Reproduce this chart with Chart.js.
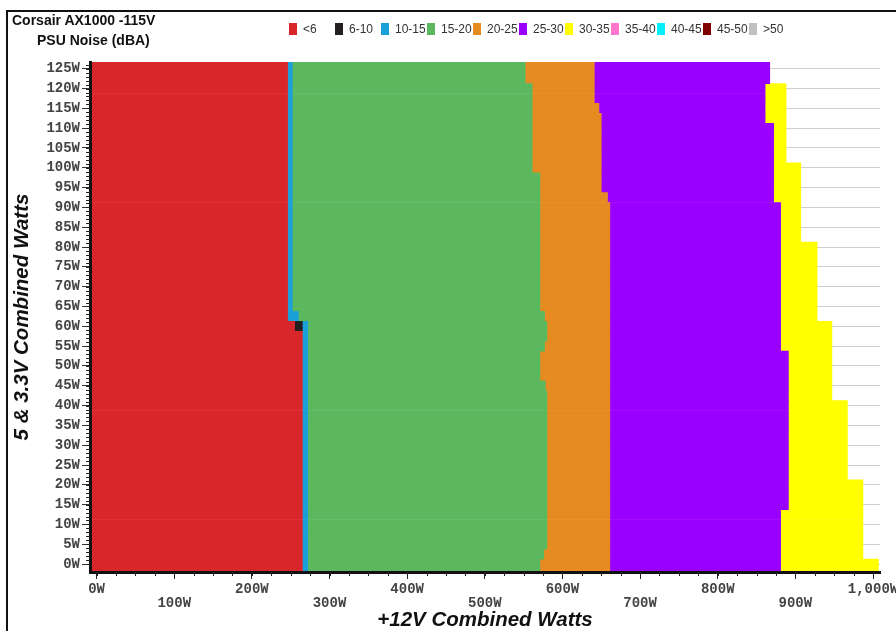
<!DOCTYPE html>
<html>
<head>
<meta charset="utf-8">
<script src="https://cdn.jsdelivr.net/npm/chart.js@4"></script>
<style>
  body { margin: 0; background: #fff; overflow: hidden; }
  #wrap { position: relative; width: 896px; height: 631px; }
  #chart { position: absolute; left: 0; top: 0; }
  .frame { position: absolute; left: 6px; top: 10px; width: 900px; height: 640px;
           border-left: 2px solid #111; border-top: 2px solid #111; }
  .ttl { position: absolute; font: bold 14px "Liberation Sans", Arial, sans-serif; color: #111; white-space: nowrap; }
  #legend { position: absolute; left: 289px; top: 22px; font: 12px "Liberation Sans", Arial, sans-serif; color: #333; }
  #legend .item { position: absolute; top: 0; white-space: nowrap; height: 14px; }
  #legend .box { position: absolute; left: 0; top: 1px; width: 8px; height: 12px; }
  #legend .txt { position: absolute; left: 14px; top: 0; line-height: 14px; }
</style>
</head>
<body>
<div id="wrap">
  <canvas id="chart" width="896" height="631"></canvas>
  <div class="frame"></div>
  <div class="ttl" style="left:12px; top:12px;">Corsair AX1000 -115V</div>
  <div class="ttl" style="left:37px; top:32px;">PSU Noise (dBA)</div>
  <div id="legend"></div>
</div>
<script>
//------------------------------------//
//-------------- Data ----------------//
//------------------------------------//

// noise bands (dBA) and their colours
const bandLabels = ['<6', '6-10', '10-15', '15-20', '20-25', '25-30', '30-35', '35-40', '40-45', '45-50', '>50'];
const bandColors = ['#d9262b', '#231f20', '#1aa1d9', '#5cb85f', '#e68b21', '#9900ff', '#ffff00', '#ff77cc', '#00f0ff', '#800000', '#c0c0c0'];

// 5 & 3.3V load rows (W), bottom to top
const rows = [
  -2.5, 0, 2.5, 5, 7.5, 10, 12.5, 15, 17.5, 20,
  22.5, 25, 27.5, 30, 32.5, 35, 37.5, 40, 42.5, 45,
  47.5, 50, 52.5, 55, 57.5, 60, 62.5, 65, 67.5, 70,
  72.5, 75, 77.5, 80, 82.5, 85, 87.5, 90, 92.5, 95,
  97.5, 100, 102.5, 105, 107.5, 110, 112.5, 115, 117.5, 120,
  122.5, 125, 127.5
];

// +12V load (W) where each band ends, one value per row
const startW = -10;
const redEnd = [
  265, 265, 265, 265, 265, 265, 265, 265, 265, 265,
  265, 265, 265, 265, 265, 265, 265, 265, 265, 265,
  265, 265, 265, 265, 265, 255, 246, 246, 246, 246,
  246, 246, 246, 246, 246, 246, 246, 246, 246, 246,
  246, 246, 246, 246, 246, 246, 246, 246, 246, 246,
  246, 246, 246
];
const blackEnd = [
  265, 265, 265, 265, 265, 265, 265, 265, 265, 265,
  265, 265, 265, 265, 265, 265, 265, 265, 265, 265,
  265, 265, 265, 265, 265, 265, 246, 246, 246, 246,
  246, 246, 246, 246, 246, 246, 246, 246, 246, 246,
  246, 246, 246, 246, 246, 246, 246, 246, 246, 246,
  246, 246, 246
];
const blueEnd = [
  272, 272, 272, 272, 272, 272, 272, 272, 272, 272,
  272, 272, 272, 272, 272, 272, 272, 272, 272, 272,
  272, 272, 272, 272, 272, 272, 260, 252, 252, 252,
  252, 252, 252, 252, 252, 252, 252, 252, 252, 252,
  252, 252, 252, 252, 252, 252, 252, 252, 252, 252,
  252, 252, 252
];
const greenEnd = [
  571, 571, 576, 580, 580, 580, 580, 580, 580, 580,
  580, 580, 580, 580, 580, 580, 580, 580, 580, 578,
  571, 571, 571, 577, 580, 580, 577, 571, 571, 571,
  571, 571, 571, 571, 571, 571, 571, 571, 571, 571,
  571, 561, 561, 561, 561, 561, 561, 561, 561, 561,
  552, 552, 552
];
const orangeEnd = [
  661, 661, 661, 661, 661, 661, 661, 661, 661, 661,
  661, 661, 661, 661, 661, 661, 661, 661, 661, 661,
  661, 661, 661, 661, 661, 661, 661, 661, 661, 661,
  661, 661, 661, 661, 661, 661, 661, 661, 658, 650,
  650, 650, 650, 650, 650, 650, 650, 647, 641, 641,
  641, 641, 641
];
const purpleEnd = [
  881, 881, 881, 881, 881, 881, 881, 891, 891, 891,
  891, 891, 891, 891, 891, 891, 891, 891, 891, 891,
  891, 891, 891, 881, 881, 881, 881, 881, 881, 881,
  881, 881, 881, 881, 881, 881, 881, 881, 872, 872,
  872, 872, 872, 872, 872, 872, 861, 861, 861, 861,
  867, 867, 867
];
const yellowEnd = [
  1007, 1007, 987, 987, 987, 987, 987, 987, 987, 987,
  967, 967, 967, 967, 967, 967, 967, 967, 947, 947,
  947, 947, 947, 947, 947, 947, 928, 928, 928, 928,
  928, 928, 928, 928, 907, 907, 907, 907, 907, 907,
  907, 907, 888, 888, 888, 888, 888, 888, 888, 888,
  867, 867, 867
];

// axis ticks
const xTicksMajor = 100;
const xTicksMinor = 25;
const yTicksMajor = 5;
const yTicksMinor = 1;

//------------------------------------//
//------------ Datasets --------------//
//------------------------------------//

const bandEnds = [redEnd, blackEnd, blueEnd, greenEnd, orangeEnd, purpleEnd, yellowEnd];

const datasets = bandLabels.map((label, c) => {
  let data = [];
  if (c < bandEnds.length) {
    data = rows.map((y, i) => ({
      y: y,
      x: [c === 0 ? startW : bandEnds[c - 1][i], bandEnds[c][i]]
    })).filter(d => d.x[1] > d.x[0]);
  }
  return {
    label: label,
    data: data,
    backgroundColor: bandColors[c],
    borderWidth: 0,
    grouped: false,
    barPercentage: 1,
    categoryPercentage: 1,
    clip: 0
  };
});

// small ticks along both axes
const minorTicks = {
  id: 'minorTicks',
  afterDraw(chart) {
    const { ctx, chartArea } = chart;
    const x = chart.scales.x, y = chart.scales.y;
    ctx.save();
    ctx.strokeStyle = '#222';
    ctx.lineWidth = 1;
    ctx.beginPath();
    for (let v = 0; v <= 1000; v += xTicksMinor) {
      const px = Math.round(x.getPixelForValue(v)) + 0.5;
      ctx.moveTo(px, chartArea.bottom);
      ctx.lineTo(px, chartArea.bottom + 4);
    }
    for (let v = 0; v <= 126; v += yTicksMinor) {
      const py = Math.round(y.getPixelForValue(v)) + 0.5;
      ctx.moveTo(chartArea.left - 4, py);
      ctx.lineTo(chartArea.left, py);
    }
    ctx.stroke();
    ctx.restore();
  }
};

const tickFont = { family: '"Liberation Mono", monospace', weight: 'bold', size: 14, lineHeight: 1 };
const titleFont = { family: '"Liberation Sans", Arial, sans-serif', weight: 'bold', style: 'italic', size: 20.5, lineHeight: 1 };

const noiseChart = new Chart(document.getElementById('chart'), {
  type: 'bar',
  data: { datasets: datasets },
  options: {
    responsive: false,
    animation: false,
    indexAxis: 'y',
    layout: { padding: { top: 62, right: 16, left: 0, bottom: 0 } },
    plugins: {
      legend: { display: false },
      tooltip: { enabled: false }
    },
    scales: {
      x: {
        type: 'linear',
        min: -8.5,
        max: 1009,
        afterFit: s => { s.height = 59; s.paddingLeft = 0; s.paddingRight = 0; },
        grid: { drawOnChartArea: false, drawTicks: true, tickLength: 7, tickColor: '#222' },
        border: { display: true, color: '#111', width: 3, z: 1 },
        ticks: {
          stepSize: xTicksMajor,
          includeBounds: false,
          autoSkip: false,
          maxRotation: 0,
          padding: 3,
          color: '#444',
          font: tickFont,
          callback: v => {
            const txt = v.toLocaleString('en-US') + 'W';
            return (v % 200 === 0) ? txt : ['', txt];
          }
        },
        title: {
          display: true,
          text: '+12V Combined Watts',
          color: '#111',
          font: titleFont,
          padding: { top: 0, bottom: 0 }
        }
      },
      y: {
        type: 'linear',
        min: -2,
        max: 126.7,
        offset: false,
        afterFit: s => { s.width = 90; },
        grid: { offset: false, color: '#cfcfcf', lineWidth: 1, tickLength: 8, tickColor: '#333' },
        border: { display: true, color: '#111', width: 3, z: 1 },
        ticks: {
          stepSize: yTicksMajor,
          includeBounds: false,
          padding: 2,
          color: '#444',
          font: tickFont,
          callback: v => v + 'W'
        },
        title: {
          display: true,
          text: '5 & 3.3V Combined Watts',
          color: '#111',
          font: titleFont,
          padding: { top: 12, bottom: 0 }
        }
      }
    }
  },
  plugins: [minorTicks]
});

//------------------------------------//
//------------- Legend ---------------//
//------------------------------------//

const legendBox = document.getElementById('legend');
noiseChart.data.datasets.forEach((ds, i) => {
  const item = document.createElement('div');
  item.className = 'item';
  item.style.left = (i * 46) + 'px';
  item.innerHTML = '<span class="box" style="background:' + ds.backgroundColor + '"></span>' +
                   '<span class="txt"></span>';
  item.querySelector('.txt').textContent = ds.label;
  legendBox.appendChild(item);
});
</script>
</body>
</html>
